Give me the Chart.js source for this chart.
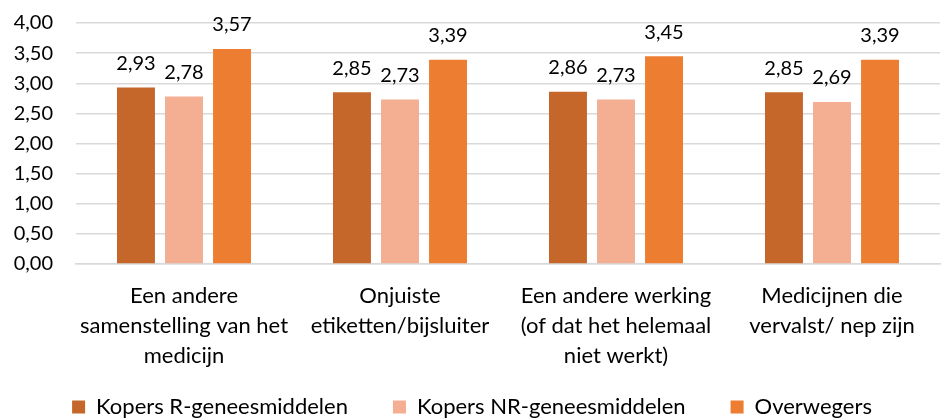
<!DOCTYPE html>
<html>
<head>
<meta charset="utf-8">
<script src="https://cdn.jsdelivr.net/npm/chart.js@4/dist/chart.umd.min.js"></script>
<style>
  html, body { margin: 0; padding: 0; background: #fff; }
  #wrap { width: 941px; height: 418px; }
</style>
</head>
<body>
<div id="wrap"><canvas id="myChart" width="941" height="418"></canvas></div>
<script>
var categories = [
  ["Een andere", "samenstelling van het", "medicijn"],
  ["Onjuiste", "etiketten/bijsluiter"],
  ["Een andere werking", "(of dat het helemaal", "niet werkt)"],
  ["Medicijnen die", "vervalst/ nep zijn"]
];
var seriesNames = ["Kopers R-geneesmiddelen", "Kopers NR-geneesmiddelen", "Overwegers"];
var kopersR = [2.93, 2.85, 2.86, 2.85];
var kopersNR = [2.78, 2.73, 2.73, 2.69];
var overwegers = [3.57, 3.39, 3.45, 3.39];
var barColors = ["#c5672a", "#f4ae92", "#ed7d31"];

var fontFamily = "Lato, 'Open Sans', sans-serif";

function fmt(v) {
  return v.toFixed(2).replace(".", ",");
}

// value above each bar
var valueLabels = {
  id: "valueLabels",
  afterDatasetsDraw(chart) {
    var ctx = chart.ctx;
    ctx.save();
    ctx.font = "20px " + fontFamily;
    ctx.fillStyle = "#000";
    ctx.textAlign = "center";
    ctx.textBaseline = "middle";
    chart.data.datasets.forEach(function (ds, i) {
      var meta = chart.getDatasetMeta(i);
      meta.data.forEach(function (bar, j) {
        ctx.fillText(fmt(ds.data[j]), bar.x, bar.y - 24);
      });
    });
    ctx.restore();
  }
};

new Chart(document.getElementById("myChart"), {
  type: "bar",
  data: {
    labels: categories,
    datasets: [
      { label: seriesNames[0], data: kopersR, backgroundColor: barColors[0] },
      { label: seriesNames[1], data: kopersNR, backgroundColor: barColors[1] },
      { label: seriesNames[2], data: overwegers, backgroundColor: barColors[2] }
    ]
  },
  options: {
    responsive: false,
    animation: false,
    categoryPercentage: 0.667,
    barPercentage: 0.79,
    layout: { padding: { left: 4, right: 1, top: 23, bottom: 0 } },
    plugins: {
      tooltip: { enabled: false },
      legend: {
        position: "bottom",
        maxHeight: 67,
        labels: {
          boxWidth: 13,
          boxHeight: 13,
          padding: 45,
          color: "#000",
          font: { family: fontFamily, size: 22 }
        }
      }
    },
    scales: {
      x: {
        grid: { display: false },
        border: { color: "#d9d9d9", width: 1.5 },
        afterFit: function (scale) {
          scale.height = 87;
          // the third label line hangs into the legend area, don't clip it
          scale._computeLabelArea = function () {};
        },
        ticks: {
          color: "#000",
          maxRotation: 0,
          autoSkip: false,
          padding: 9,
          font: { family: fontFamily, size: 22, lineHeight: 1.364 }
        }
      },
      y: {
        min: 0,
        max: 4,
        grid: { color: "#d9d9d9", lineWidth: 1.5, drawTicks: false },
        border: { display: false },
        afterFit: function (scale) {
          scale.width = 72;
          scale.paddingTop = 0;
          scale.paddingBottom = 0;
        },
        ticks: {
          stepSize: 0.5,
          padding: 23,
          color: "#000",
          font: { family: fontFamily, size: 20 },
          callback: function (v) { return fmt(v); }
        }
      }
    }
  },
  plugins: [valueLabels]
});
</script>
</body>
</html>
